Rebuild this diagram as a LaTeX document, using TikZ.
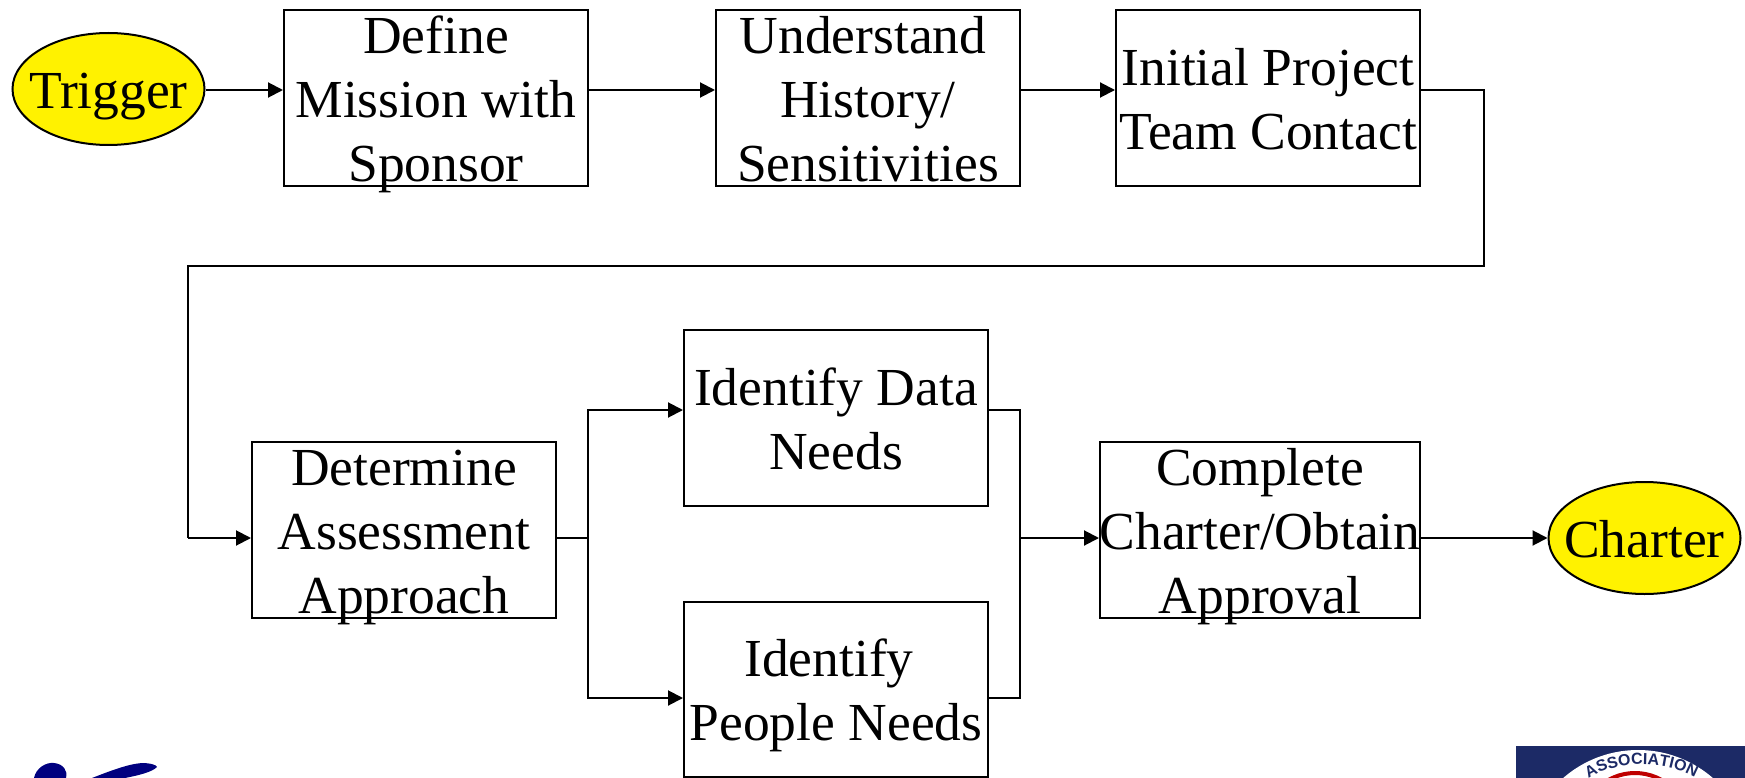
\documentclass[tikz,border=0pt]{standalone}
\usepackage{fontspec}
\setmainfont{Liberation Serif}
\newfontfamily\sealfont{Liberation Sans}
\usetikzlibrary{arrows.meta,decorations.text,shapes.geometric}
\definecolor{sealblue}{HTML}{1C2A66}
\definecolor{logoblue}{HTML}{00007F}
\newcommand{\cellfit}[1]{\makebox[0pt]{\raisebox{-13pt}{\vbox to 0pt{\vss\hbox{\begin{tabular}{@{}c@{}}#1\end{tabular}}\vss}}}}
\tikzset{
  x=1pt,y=-1pt,
  every node/.style={font=\fontsize{53.5}{64}\selectfont},
  stepbox/.style={draw=black,line width=2pt,inner sep=0pt,fill=none},
  oval/.style={draw=black,line width=2pt,fill=yellow,ellipse,inner sep=0pt,minimum width=192pt,minimum height=112pt},
  conn/.style={draw=black,line width=2pt},
  arr/.style={conn,-{Triangle[length=15pt,width=15pt]}}
}
\begin{document}
\begin{tikzpicture}
\useasboundingbox (0,0) rectangle (1745,778);
\begin{scope}
\clip (0,0) rectangle (1745,778);
% left logo
\fill[logoblue] (34,778) .. controls (36,768) and (46,762) .. (54,763) .. controls (63,764) and (68,770) .. (66,778) -- cycle;
\fill[logoblue] (92,778) .. controls (110,771) and (128,764) .. (142,763) .. controls (150,763) and (157,765) .. (157,767) .. controls (152,772) and (140,775) .. (125,778) -- cycle;
% seal
\fill[sealblue] (1516,746) rectangle (1745,778);
\fill[white] (1638,864) circle (114);
\draw[red!75!black,line width=4pt] (1635,827) circle (54);
\path[decorate,decoration={text along path,text align=center,text={|\fontsize{16}{16}\sealfont\bfseries\color{sealblue}|ASSOCIATION}}]
  (1580,785) .. controls (1610,758) and (1670,758) .. (1704,783);
\end{scope}
% nodes
\node[oval] (trigger) at (108.5,89) {\cellfit{Trigger}};
\node[stepbox,minimum width=304pt,minimum height=176pt] (define) at (436,98) {\cellfit{Define\\Mission with\\Sponsor}};
\node[stepbox,minimum width=304pt,minimum height=176pt] (understand) at (868,98) {\cellfit{Understand\rule{10pt}{0pt}\\History/\\Sensitivities}};
\node[stepbox,minimum width=304pt,minimum height=176pt] (initial) at (1268,98) {\cellfit{Initial Project\\Team Contact}};
\node[stepbox,minimum width=304pt,minimum height=176pt] (determine) at (404,530) {\cellfit{Determine\\Assessment\\Approach}};
\node[stepbox,minimum width=304pt,minimum height=176pt] (data) at (836,418) {\cellfit{Identify Data\\Needs}};
\node[stepbox,minimum width=304pt,minimum height=175pt] (people) at (836,689.5) {\cellfit{Identify\rule{14pt}{0pt}\\People Needs}};
\node[stepbox,minimum width=320pt,minimum height=176pt] (complete) at (1260,530) {\cellfit{Complete\\Charter/Obtain\\Approval}};
\node[oval] (charter) at (1644.5,538) {\cellfit{Charter}};
% connector waypoints
\coordinate (r1) at (1484,90);
\coordinate (r2) at (1484,266);
\coordinate (r3) at (188,266);
\coordinate (r4) at (188,538);
\coordinate (f0) at (588,538);
\coordinate (f1) at (588,410);
\coordinate (f2) at (588,698);
\coordinate (m0) at (1020,538);
\coordinate (m1) at (1020,410);
\coordinate (m2) at (1020,698);
% connectors
\draw[arr] (trigger.east |- 0,90) -- (define.west |- 0,90);
\draw[arr] (define.east |- 0,90) -- (understand.west |- 0,90);
\draw[arr] (understand.east |- 0,90) -- (initial.west |- 0,90);
\draw[conn] (initial.east |- r1) -- (r1) -- (r2) -- (r3) -- (r4);
\draw[arr] (r4) -- (determine.west |- r4);
\draw[conn] (determine.east |- f0) -- (f0);
\draw[arr] (f0) -- (f1) -- (data.west |- f1);
\draw[arr] (f0) -- (f2) -- (people.west |- f2);
\draw[conn] (data.east |- m1) -- (m1) -- (m2) -- (people.east |- m2);
\draw[arr] (m0) -- (complete.west |- m0);
\draw[arr] (complete.east |- m0) -- (charter.west |- m0);
\end{tikzpicture}
\end{document}
